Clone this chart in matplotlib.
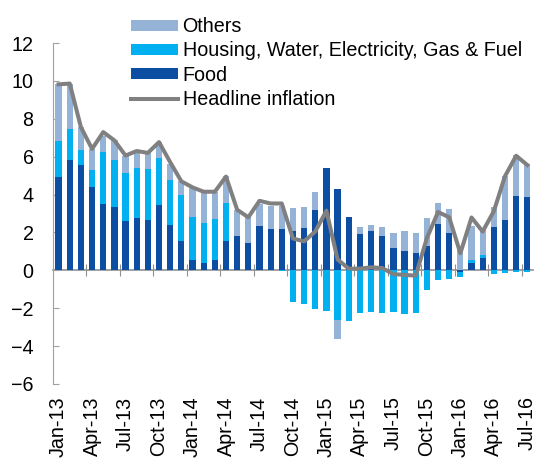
import numpy as np
import matplotlib
matplotlib.use('Agg')
import matplotlib.pyplot as plt

plt.rcParams['font.family'] = ['Liberation Sans', 'DejaVu Sans']

# monthly, Jan-13 .. Jul-16
months = ['Jan-13', 'Feb-13', 'Mar-13', 'Apr-13', 'May-13', 'Jun-13', 'Jul-13', 'Aug-13', 'Sep-13', 'Oct-13', 'Nov-13', 'Dec-13',
          'Jan-14', 'Feb-14', 'Mar-14', 'Apr-14', 'May-14', 'Jun-14', 'Jul-14', 'Aug-14', 'Sep-14', 'Oct-14', 'Nov-14', 'Dec-14',
          'Jan-15', 'Feb-15', 'Mar-15', 'Apr-15', 'May-15', 'Jun-15', 'Jul-15', 'Aug-15', 'Sep-15', 'Oct-15', 'Nov-15', 'Dec-15',
          'Jan-16', 'Feb-16', 'Mar-16', 'Apr-16', 'May-16', 'Jun-16', 'Jul-16']

food = [4.91, 5.83, 5.58, 4.38, 3.50, 3.32, 2.61, 2.74, 2.65, 3.43, 2.40, 1.55,
        0.55, 0.40, 0.53, 1.55, 1.80, 1.45, 2.35, 2.17, 2.17, 2.08, 2.24, 3.17,
        5.41, 4.27, 2.82, 1.94, 2.07, 1.82, 1.18, 1.02, 0.92, 1.27, 2.47, 1.98,
        -0.09, 0.39, 0.65, 2.29, 2.65, 3.92, 3.88]
housing = [1.91, 1.61, 0.78, 0.92, 2.74, 2.51, 2.51, 2.67, 2.70, 2.51, 2.39, 2.41,
           2.29, 2.12, 2.16, 1.98, 0.0, 0.0, 0.0, 0.0, -0.05, -1.68, -1.80, -2.06,
           -2.17, -2.61, -2.70, -2.26, -2.21, -2.23, -2.19, -2.30, -2.26, -1.06, -0.53, -0.44,
           -0.26, 0.14, 0.14, -0.21, -0.14, -0.08, -0.10]
others = [3.04, 2.42, 1.20, 1.11, 0.83, 1.03, 0.94, 0.83, 0.83, 0.83, 0.83, 0.77,
          1.49, 1.60, 1.46, 1.45, 1.40, 1.36, 1.13, 1.22, 1.22, 1.22, 1.11, 0.97,
          0.0, -1.00, 0.0, 0.35, 0.30, 0.47, 0.80, 1.04, 1.06, 1.50, 1.11, 1.25,
          1.15, 1.80, 1.33, 1.06, 2.32, 2.16, 1.73]
headline = [9.82, 9.86, 7.56, 6.41, 7.30, 6.86, 6.06, 6.30, 6.20, 6.77, 5.71, 4.70,
            4.38, 4.15, 4.15, 4.95, 3.20, 2.80, 3.67, 3.53, 3.53, 1.68, 1.53, 2.05,
            3.15, 0.57, 0.09, 0.09, 0.16, 0.12, -0.20, -0.24, -0.28, 1.70, 3.08, 2.80,
            0.90, 2.79, 2.05, 3.12, 4.97, 6.05, 5.56]

C_FOOD = '#0B4EA2'
C_HOUS = '#00B0F0'
C_OTH = '#95B3D7'
C_LINE = '#808080'
FS = 14.2

fig = plt.figure(figsize=(5.58, 4.58), dpi=100)
ax = fig.add_axes([0.095, 0.1616, 0.86, 0.7444])

x = np.arange(len(months))
pos = np.zeros(len(x))
neg = np.zeros(len(x))
bars = {}
for name, vals, col in [('Food', food, C_FOOD),
                        ('Housing, Water, Electricity, Gas & Fuel', housing, C_HOUS),
                        ('Others', others, C_OTH)]:
    v = np.array(vals)
    base = np.where(v >= 0, pos, neg)
    bars[name] = ax.bar(x, v, 0.56, bottom=base, color=col, label=name, zorder=2)
    pos = pos + np.where(v >= 0, v, 0)
    neg = neg + np.where(v < 0, v, 0)

ln, = ax.plot(x, headline, color=C_LINE, lw=2.9, label='Headline inflation', zorder=3)

ax.set_xlim(-0.5, 42.5)
ax.set_ylim(-6, 12)
ax.set_yticks(np.arange(-6, 13, 2))
ax.tick_params(axis='y', direction='in', length=4, color='#A0A0A0', labelsize=FS, pad=14)
ax.set_xticks(x[::3])
ax.set_xticklabels(months[::3], rotation=90, fontsize=FS)
ax.tick_params(axis='x', length=0, pad=9)
for s in ['top', 'right', 'bottom']:
    ax.spines[s].set_visible(False)
ax.spines['left'].set_color('#A0A0A0')

# zero line with tick marks between quarters
zax = ax.secondary_xaxis(6 / 18)
zax.set_xticks(np.arange(2.5, 42, 3))
zax.tick_params(direction='inout', length=8, color='#909090', labelbottom=False, labeltop=False)
zax.spines['bottom'].set_color('#909090')
zax.spines['bottom'].set_linewidth(1.2)

handles = [bars['Others'], bars['Housing, Water, Electricity, Gas & Fuel'], bars['Food'], ln]
labels = ['Others', 'Housing, Water, Electricity, Gas & Fuel', 'Food', 'Headline inflation']
fig.legend(handles, labels, loc='upper left', bbox_to_anchor=(0.207, 0.997), frameon=False,
           fontsize=FS, handlelength=2.35, handleheight=0.5, handletextpad=0.25,
           labelspacing=0.27, borderpad=0.3)

fig.savefig('out.png', dpi=100)
